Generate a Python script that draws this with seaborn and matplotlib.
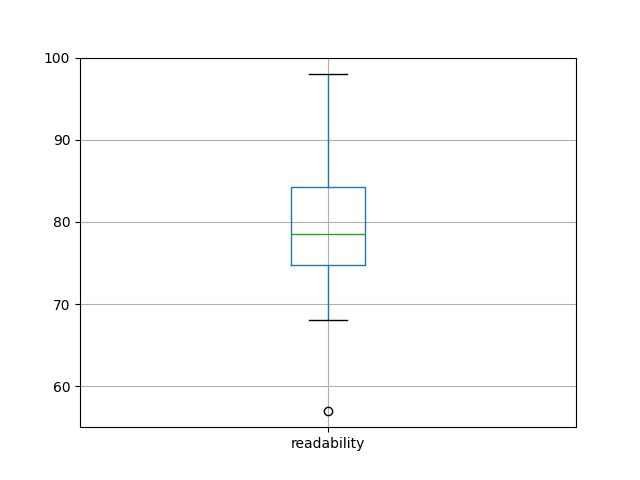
import numpy as np
import pandas as pd
import matplotlib
matplotlib.use("Agg")
import matplotlib.pyplot as plt
import seaborn as sns


# Readability scores (sorted); quartiles
readability = [57, 68, 74.75, 76, 78.5, 80, 84.25, 90, 98]
y_ticks = [60, 70, 80, 90, 100]

df = pd.DataFrame({"readability": readability})


fig, ax = plt.subplots(figsize=(6.4, 4.8), dpi=100)

sns.boxplot(
    data=df,
    width=0.15,
    fill=False,
    linewidth=1.0,
    boxprops={"color": "#1f77b4"},
    whiskerprops={"color": "#1f77b4"},
    capprops={"color": "black"},
    medianprops={"color": "#2ca02c"},
    flierprops={
        "marker": "o",
        "markerfacecolor": "none",
        "markeredgecolor": "black",
        "markersize": 6,
    },
    ax=ax,
)

ax.set_xlim(-0.5, 0.5)
ax.set_ylim(55, 100)
ax.set_yticks(y_ticks)
ax.grid(True)
ax.set_axisbelow(True)
ax.set_xlabel("")
ax.set_ylabel("")

plt.savefig("out.png", dpi=100)
